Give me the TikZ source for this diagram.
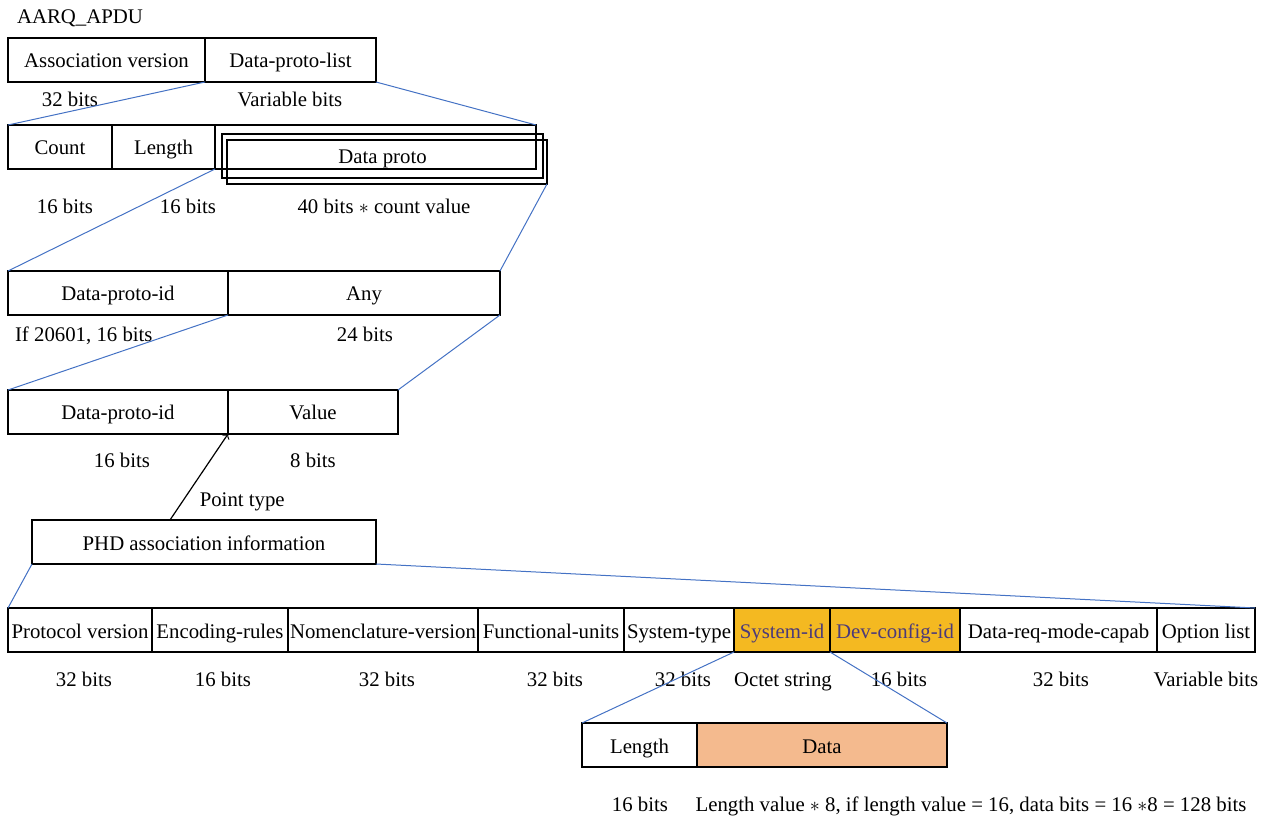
\documentclass[tikz,border=0pt]{standalone}
\usepackage{fontspec}
\setmainfont{Liberation Serif}
\usetikzlibrary{positioning}

\definecolor{linkblue}{HTML}{4472C4}
\definecolor{idorange}{HTML}{F4B921}
\definecolor{idtext}{HTML}{4B3A7A}
\definecolor{datapeach}{HTML}{F4BA8E}

\begin{document}
\begin{tikzpicture}[x=0.5pt,y=-0.5pt,font=\fontsize{10.4}{12}\selectfont,
	every node/.append style={text height=10.2pt, text depth=2.2pt},
	cell/.style={draw, line width=0.6pt, inner sep=0pt, outer sep=0pt,
		minimum height=22pt},
	hilite/.style={cell, fill=idorange, text=idtext},
	link/.style={draw=linkblue, line width=0.5pt}]

\useasboundingbox (0,0) rectangle (1270,818);

\node[anchor=west] (title) at (10,16) {AARQ\_APDU};

% association request
\node[cell, minimum width=98.5pt, anchor=north west] (asv) at (8,38) {Association version};
\node[cell, minimum width=85.5pt, right=0pt of asv] (dpl) {Data-proto-list};
\node (asvb) at (70,99) {32 bits};
\node (dplb) at (290,99) {Variable bits};

% data proto list
\node[cell, minimum width=52pt, anchor=north west] (cnt) at (8,125) {Count};
\node[cell, minimum width=51.5pt, right=0pt of cnt] (len) {Length};
\node[cell, minimum width=160.5pt, right=0pt of len] (dpc) {};
\node[cell, minimum width=160pt, anchor=north west] (dp3) at (227,140) {};
\node[cell, minimum width=160.5pt, anchor=north west] (dp2) at (222,134) {Data proto};
\node (cntb) at (65,206) {16 bits};
\node (lenb) at (188,206) {16 bits};
\node (dpb) at (384,206) {40 bits $\ast$ count value};

% data proto
\node[cell, minimum width=110pt, anchor=north west] (dpi) at (8,271) {Data-proto-id};
\node[cell, minimum width=136pt, right=0pt of dpi] (any) {Any};
\node[anchor=west] (dpib) at (8,334) {If 20601, 16 bits};
\node (anyb) at (365,334) {24 bits};

% any
\node[cell, minimum width=110pt, anchor=north west] (dpid) at (8,390) {Data-proto-id};
\node[cell, minimum width=85pt, right=0pt of dpid] (val) {Value};
\node (dpidb) at (122,459) {16 bits};
\node (valb) at (313,459) {8 bits};

% PHD
\node[cell, minimum width=172pt, anchor=north west] (phd) at (32,520) {PHD association information};
\coordinate (ptype) at (170,520);

\node[cell, minimum width=72pt, anchor=north west] (pv) at (8,608) {Protocol version};
\node[cell, minimum width=68pt, right=0pt of pv] (er) {Encoding-rules};
\node[cell, minimum width=95pt, right=0pt of er] (nv) {Nomenclature-version};
\node[cell, minimum width=73pt, right=0pt of nv] (fu) {Functional-units};
\node[cell, minimum width=55pt, right=0pt of fu] (st) {System-type};
\node[hilite, minimum width=48pt, right=0pt of st] (sid) {System-id};
\node[hilite, minimum width=65pt, right=0pt of sid] (dci) {Dev-config-id};
\node[cell, minimum width=98.5pt, right=0pt of dci] (drm) {Data-req-mode-capab};
\node[cell, minimum width=49pt, right=0pt of drm] (ol) {Option list};

\node (pvb) at (84,678) {32 bits};
\node (erb) at (223,678) {16 bits};
\node (nvb) at (387,678) {32 bits};
\node (fub) at (555,678) {32 bits};
\node (stb) at (683,678) {32 bits};
\node (sidb) at (783,678) {Octet string};
\node (dcib) at (899,678) {16 bits};
\node (drmb) at (1061,678) {32 bits};
\node (olb) at (1206,678) {Variable bits};

% octet string
\node[cell, minimum width=57.5pt, anchor=north west] (olen) at (582,723) {Length};
\node[cell, minimum width=125pt, fill=datapeach, right=0pt of olen] (odata) {Data};
\node (olenb) at (640,803) {16 bits};
\node (odatab) at (971,803) {Length value $\ast$ 8, if length value = 16, data bits = 16 $\ast$8 = 128 bits};

% zoom lines
\draw[link] (dpl.south west) -- (cnt.north west);
\draw[link] (dpl.south east) -- (dpc.north east);
\draw[link] (dpc.south west) -- (dpi.north west);
\draw[link] (dp3.south east) -- (any.north east);
\draw[link] (any.south west) -- (dpid.north west);
\draw[link] (any.south east) -- (val.north east);
\draw[link] (phd.south west) -- (pv.north west);
\draw[link] (phd.south east) -- (ol.north east);
\draw[link] (sid.south west) -- (olen.north west);
\draw[link] (sid.south east) -- (odata.north east);

\draw[->, line width=0.6pt] (ptype) -- node[pos=0.25, anchor=west, xshift=4pt] (ptl) {Point type} (val.south west);

\end{tikzpicture}
\end{document}
